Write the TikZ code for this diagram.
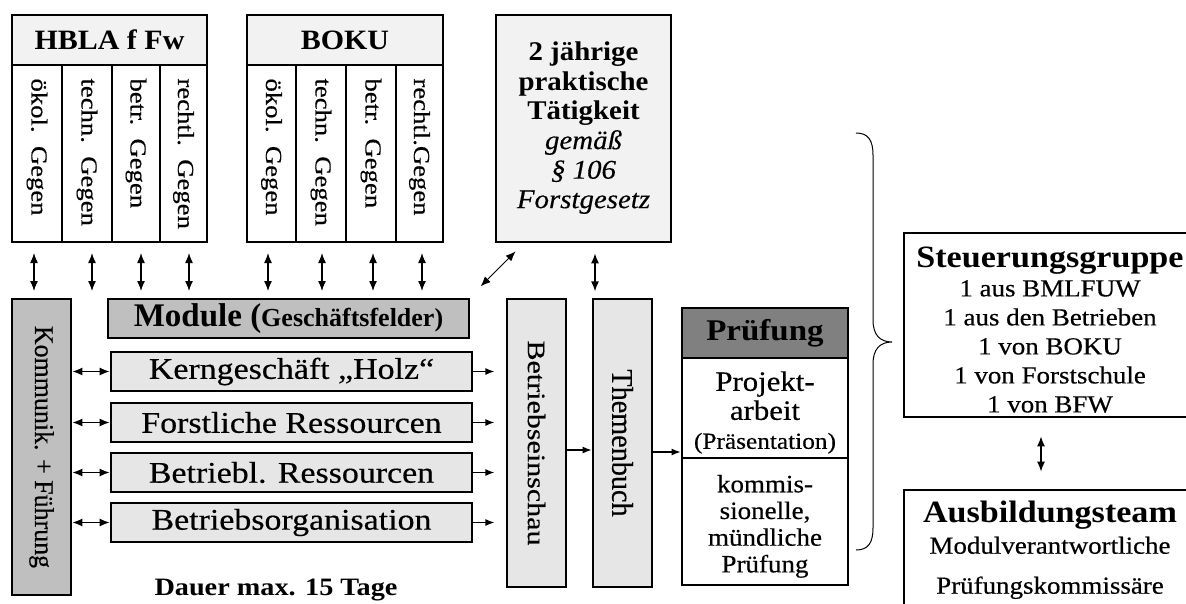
\documentclass[tikz,border=0pt]{standalone}
\usepackage{fontspec}
\setmainfont{Liberation Serif}[UprightFeatures={FakeBold=0.4}, ItalicFeatures={FakeBold=0.3}]
\usepackage{graphicx}
\usepackage{xcolor}
\usetikzlibrary{arrows.meta}

\definecolor{hdrgray}{HTML}{F2F2F2}
\definecolor{modgray}{HTML}{E6E6E6}
\definecolor{midgray}{HTML}{BFBFBF}
\definecolor{pruefgray}{HTML}{808080}

\newcommand{\fsize}[2]{\fontsize{#1}{#2}\selectfont}
\newcommand{\stx}[2][1.25]{\scalebox{#1}[1]{#2}}

\begin{document}
\begin{tikzpicture}[x=1pt,y=-1pt]
\tikzset{box/.style={draw, line width=2.8pt, inner sep=0pt}}
\tikzset{hdr/.style={box, fill=hdrgray, font=\bfseries\fsize{28}{30}}}
\tikzset{gegen/.style={draw, line width=2pt, fill=white, rotate=-90, minimum width=177pt, minimum height=49pt, text width=150pt, align=left, inner xsep=13.5pt, inner ysep=0pt, font=\fsize{23}{26}}}
\tikzset{modbox/.style={box, fill=modgray, minimum width=361pt, minimum height=39pt, font=\fsize{30}{32}}}
\tikzset{vbox/.style={box, fill=modgray, rotate=-90, minimum width=288pt, minimum height=59pt}}
\tikzset{wbox/.style={box, fill=white}}
\tikzset{dbl/.style={{Latex[length=10pt,width=8pt]}-{Latex[length=10pt,width=8pt]}, line width=1.3pt}}
\tikzset{sarr/.style={-{Latex[length=9pt,width=7pt]}, line width=1.3pt}}

\useasboundingbox (0,0) rectangle (1186,603);

% Schulen oben
\node[hdr, minimum width=195pt, minimum height=50pt] (hbla) at (109.5,40) {\stx[1.07]{HBLA f Fw}};
\node[gegen, minimum height=50pt] (h1) at (37,153.5) {\stx[1.16]{ökol. Gegen}};
\node[gegen, minimum height=50pt] (h2) at (87,153.5) {\stx[1.16]{techn. Gegen}};
\node[gegen, minimum height=48pt] (h3) at (136,153.5) {\stx[1.16]{betr. Gegen}};
\node[gegen, minimum height=47pt] (h4) at (183.5,153.5) {\stx[1.16]{rechtl. Gegen}};

\node[hdr, minimum width=196pt, minimum height=50pt] (boku) at (345,40) {\stx[1.07]{BOKU}};
\node[gegen, minimum height=49pt] (b1) at (271.5,153.5) {\stx[1.16]{ökol. Gegen}};
\node[gegen, minimum height=50pt] (b2) at (321,153.5) {\stx[1.16]{techn. Gegen}};
\node[gegen, minimum height=50pt] (b3) at (371,153.5) {\stx[1.16]{betr. Gegen}};
\node[gegen, minimum height=47pt] (b4) at (419.5,153.5) {\stx[1.16]{rechtl.Gegen}};

\node[box, fill=hdrgray, minimum width=175pt, minimum height=227pt, font=\fsize{27}{29.5}] (prax) at (583.5,128.5)
  {\stx[1.07]{\begin{tabular}{@{}c@{}}\bfseries 2 jährige\\ \bfseries praktische\\ \bfseries Tätigkeit\\ \itshape gemäß\\ \itshape \S\ 106\\ \itshape Forstgesetz\end{tabular}}};

% Module
\node[box, fill=midgray, rotate=-90, minimum width=296pt, minimum height=59pt, font=\fsize{27}{30}] (komm) at (41.5,447) {\stx[0.96]{Kommunik. + Führung}};
\node[box, fill=midgray, minimum width=361pt, minimum height=39pt] (modh) at (288.5,318.5)
  {\bfseries\fsize{33}{35}Module (\fsize{26}{28}Geschäftsfelder)};
\node[modbox] (m1) at (291.5,371.5) {\stx[1.13]{Kerngeschäft „Holz“}};
\node[modbox] (m2) at (291.5,422.5) {\stx[1.13]{Forstliche Ressourcen}};
\node[modbox] (m3) at (291.5,472.5) {\stx[1.13]{Betriebl. Ressourcen}};
\node[modbox] (m4) at (291.5,522.5) {\stx[1.13]{Betriebsorganisation}};
\node[anchor=base, font=\bfseries\fsize{25}{28}] (dauer) at (276,595) {\stx[1.13]{Dauer max. 15 Tage}};

\node[vbox, font=\fsize{25}{28}] (bes) at (536.5,443) {\stx[1.2]{Betriebseinschau}};
\node[vbox, font=\fsize{30}{32}] (thm) at (622.5,443) {\stx[0.94]{Themenbuch}};

% Pruefung
\node[box, fill=pruefgray, minimum width=166pt, minimum height=50pt, font=\bfseries\fsize{30}{32}] (ph) at (765,333) {\stx[1.1]{Prüfung}};
\node[wbox, minimum width=166pt, minimum height=100pt] (p1) at (765,408) {};
\node[font=\fsize{28}{29}] (p1txt) at (765,414)
  {\stx[1.1]{\begin{tabular}{@{}c@{}}Projekt-\\ arbeit\\ \fsize{23}{29}(Präsentation)\end{tabular}}};
\node[wbox, minimum width=166pt, minimum height=127pt] (p2) at (765,521.5) {};
\node[font=\fsize{25}{26.7}] (p2txt) at (765,527)
  {\stx[1.08]{\begin{tabular}{@{}c@{}}kommis-\\ sionelle,\\ mündliche\\ Prüfung\end{tabular}}};

% Gremien rechts
\node[wbox, minimum width=292pt, minimum height=184pt] (steu) at (1050,325) {};
\node[font=\fsize{24.5}{29}] (steutxt) at (1050,334)
  {\stx[1.1]{\begin{tabular}{@{}c@{}}\bfseries\fsize{31}{29}Steuerungsgruppe\\ 1 aus BMLFUW\\ 1 aus den Betrieben\\ 1 von BOKU\\ 1 von Forstschule\\ 1 von BFW\end{tabular}}};
\node[wbox, minimum width=292pt, minimum height=124pt, font=\fsize{24.5}{31}] (aus) at (1050,552)
  {\stx[1.1]{\begin{tabular}{@{}c@{}}\bfseries\fsize{31}{29}Ausbildungsteam\\ Modulverantwortliche\\[9pt] Prüfungskommissäre\end{tabular}}};

% Pfeile
\draw[dbl] ([xshift=-3pt,yshift=-10pt]h1.east) -- ++(0,38);
\draw[dbl] ([xshift=5pt,yshift=-10pt]h2.east) -- ++(0,38);
\draw[dbl] ([xshift=5pt,yshift=-10pt]h3.east) -- ++(0,38);
\draw[dbl] ([xshift=5.5pt,yshift=-10pt]h4.east) -- ++(0,38);
\draw[dbl] ([xshift=-3.5pt,yshift=-10pt]b1.east) -- ++(0,38);
\draw[dbl] ([xshift=1pt,yshift=-10pt]b2.east) -- ++(0,38);
\draw[dbl] ([xshift=2pt,yshift=-10pt]b3.east) -- ++(0,38);
\draw[dbl] ([xshift=2.5pt,yshift=-10pt]b4.east) -- ++(0,38);
\draw[dbl, line width=1pt] ([xshift=21pt,yshift=-8pt]prax.south west) -- ++(-35,35);
\draw[dbl] ([xshift=11.5pt,yshift=-10pt]prax.south) -- ++(0,38);

\draw[dbl] (komm.north |- m1.west) -- (m1.west);
\draw[dbl] (komm.north |- m2.west) -- (m2.west);
\draw[dbl] (komm.north |- m3.west) -- (m3.west);
\draw[dbl] (komm.north |- m4.west) -- (m4.west);
\draw[sarr] (m1.east) -- ++(21,0);
\draw[sarr] (m2.east) -- ++(21,0);
\draw[sarr] (m3.east) -- ++(21,0);
\draw[sarr] (m4.east) -- ++(21,0);

\draw[sarr] ([yshift=-7pt]bes.north) -- ([yshift=-7pt]thm.south);
\draw[sarr] ([yshift=-9pt]thm.north) -- ([yshift=-9pt]thm.north -| p1.west);

\draw[dbl] ([xshift=-9pt,yshift=-18pt]steu.south) -- ([xshift=-9pt,yshift=17pt]aus.north);

% Klammer
\draw[line width=1pt] (856,133) .. controls (868,133) and (873,140) .. (873,155) -- (873,320)
  .. controls (873,335) and (880,342) .. (892,342) .. controls (880,342) and (873,349) .. (873,364)
  -- (873,528) .. controls (873,543) and (868,550) .. (856,550);

\end{tikzpicture}
\end{document}
